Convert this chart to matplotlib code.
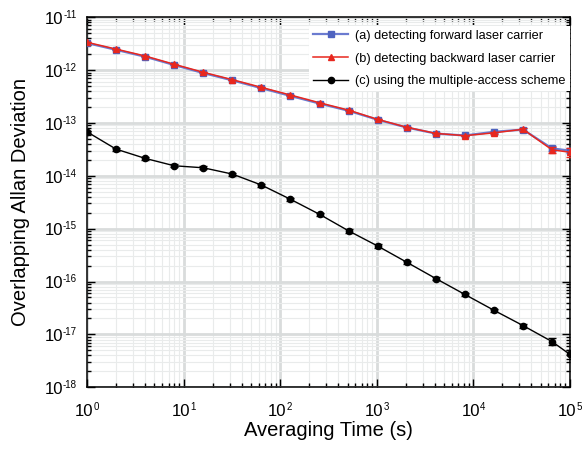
import numpy as np
import matplotlib
matplotlib.use('Agg')
import matplotlib.pyplot as plt
from matplotlib.lines import Line2D
from matplotlib.ticker import LogLocator, NullFormatter

plt.rcParams['font.family'] = ['Liberation Sans', 'DejaVu Sans']

# dados
tau = [1, 2, 4, 8, 16, 32, 64, 128, 256, 512, 1024, 2048, 4096,
       8192, 16384, 32768, 65536, 100000]

adev_a = [3.25e-12, 2.42e-12, 1.79e-12, 1.25e-12, 8.8e-13, 6.4e-13,
          4.55e-13, 3.25e-13, 2.33e-13, 1.7e-13, 1.15e-13, 8.2e-14,
          6.3e-14, 5.8e-14, 6.8e-14, 7.5e-14, 3.3e-14, 3.0e-14]
err_a = [0, 0, 0, 0, 0, 0, 0, 0, 0, 0, 0, 0, 0, 0, 3e-15, 4e-15, 3e-15, 3e-15]

adev_b = [3.36e-12, 2.5e-12, 1.85e-12, 1.29e-12, 9.1e-13, 6.6e-13,
          4.72e-13, 3.38e-13, 2.41e-13, 1.75e-13, 1.17e-13, 8.3e-14,
          6.35e-14, 5.75e-14, 6.5e-14, 7.6e-14, 3.1e-14, 2.8e-14]
err_b = [0, 0, 0, 0, 0, 0, 0, 0, 0, 0, 0, 0, 0, 0, 3e-15, 4e-15, 4.5e-15, 5.5e-15]

adev_c = [6.8e-14, 3.2e-14, 2.14e-14, 1.55e-14, 1.42e-14, 1.08e-14,
          6.7e-15, 3.6e-15, 1.87e-15, 9.1e-16, 4.7e-16, 2.32e-16,
          1.14e-16, 5.7e-17, 2.86e-17, 1.47e-17, 7.3e-18, 4.2e-18]
err_c = [4e-15, 2e-15, 1.3e-15, 1e-15, 9e-16, 7e-16, 4.5e-16, 2.4e-16,
         1.3e-16, 6.5e-17, 3.4e-17, 1.7e-17, 8.5e-18, 4.5e-18, 2.3e-18,
         1.3e-18, 1.1e-18, 8e-19]

expoentes_x = [0, 1, 2, 3, 4, 5]
expoentes_y = [-11, -12, -13, -14, -15, -16, -17, -18]

labels = ['(a) detecting forward laser carrier',
          '(b) detecting backward laser carrier',
          '(c) using the multiple-access scheme']

fig = plt.figure(figsize=(5.85, 4.54), dpi=100)
ax = fig.add_axes([0.1487, 0.147, 0.8253, 0.815])

estilo_a = dict(color='#6b7bd0', marker='s', ms=4.5, mfc='#4f63c0',
                mec='#4f63c0', lw=1.6)
estilo_b = dict(color='#e8271e', marker='^', ms=5, lw=1.1)
estilo_c = dict(color='black', marker='o', ms=4.5, lw=1.0)

ax.errorbar(tau, adev_a, yerr=err_a, capsize=3, elinewidth=1, zorder=3, **estilo_a)
ax.errorbar(tau, adev_b, yerr=err_b, capsize=3, elinewidth=1, zorder=4, **estilo_b)
ax.errorbar(tau, adev_c, yerr=err_c, capsize=3, elinewidth=1, zorder=4, **estilo_c)

ax.set_xscale('log')
ax.set_yscale('log')
ax.set_xlim(1, 1e5)
ax.set_ylim(1e-18, 1e-11)

ax.xaxis.set_major_locator(LogLocator(base=10, numticks=10))
ax.yaxis.set_major_locator(LogLocator(base=10, numticks=10))
ax.xaxis.set_minor_locator(LogLocator(base=10, subs=np.arange(2, 10), numticks=20))
ax.yaxis.set_minor_locator(LogLocator(base=10, subs=np.arange(2, 10), numticks=20))
ax.xaxis.set_major_formatter(NullFormatter())
ax.yaxis.set_major_formatter(NullFormatter())
ax.xaxis.set_minor_formatter(NullFormatter())
ax.yaxis.set_minor_formatter(NullFormatter())

ax.grid(True, which='major', color='#d9dcdc', lw=2.0, zorder=0)
ax.grid(True, which='minor', color='#e9ebeb', lw=0.8, zorder=0)
ax.set_axisbelow(True)

ax.tick_params(which='both', direction='in', top=True, right=True, width=1.0)
ax.tick_params(which='major', length=6)
ax.tick_params(which='minor', length=3)
for s in ax.spines.values():
    s.set_linewidth(1.1)

# rotulos 10^n feitos a mao (base + expoente)
TAM_BASE = 12
TAM_EXP = 7
px = 72 / fig.dpi
BASE_X, EXP_X = -29, -23
BASE_Y, EXP_Y = -6.7, -0.7

rot_x = []
for e in expoentes_x:
    b = ax.annotate('10', xy=(10.0**e, 0), xycoords=('data', 'axes fraction'),
                    xytext=(0, BASE_X * px), textcoords='offset points',
                    ha='left', va='baseline', fontsize=TAM_BASE)
    s = ax.annotate(str(e), xy=(10.0**e, 0), xycoords=('data', 'axes fraction'),
                    xytext=(0, EXP_X * px), textcoords='offset points',
                    ha='left', va='baseline', fontsize=TAM_EXP)
    rot_x.append((b, s))

rot_y = []
for e in expoentes_y:
    b = ax.annotate('10', xy=(0, 10.0**e), xycoords=('axes fraction', 'data'),
                    xytext=(0, BASE_Y * px), textcoords='offset points',
                    ha='left', va='baseline', fontsize=TAM_BASE)
    s = ax.annotate(str(e), xy=(0, 10.0**e),
                    xycoords=('axes fraction', 'data'),
                    xytext=(-10 * px, EXP_Y * px), textcoords='offset points',
                    ha='right', va='baseline', fontsize=TAM_EXP)
    rot_y.append((b, s))

fig.canvas.draw()
rend = fig.canvas.get_renderer()
for b, s in rot_x:
    wb = b.get_window_extent(rend).width
    ws = s.get_window_extent(rend).width
    inicio = -(wb + ws) / 2
    b.set_position((inicio * px, BASE_X * px))
    s.set_position(((inicio + wb) * px, EXP_X * px))
for b, s in rot_y:
    wb = b.get_window_extent(rend).width
    ws = s.get_window_extent(rend).width
    b.set_position(((-10 - ws - wb) * px, BASE_Y * px))

ax.set_xlabel('Averaging Time (s)', fontsize=14.5)
ax.set_ylabel('Overlapping Allan Deviation', fontsize=14.5)
ax.xaxis.set_label_coords(0.5, -0.09)
ax.yaxis.set_label_coords(-0.118, 0.5)

handles = [Line2D([], [], **estilo_a), Line2D([], [], **estilo_b),
           Line2D([], [], **estilo_c)]
leg = ax.legend(handles, labels, loc='upper right', bbox_to_anchor=(1.0, 0.976),
                fontsize=9.2, frameon=True, fancybox=False, framealpha=1,
                edgecolor='none', handlelength=2.8, handletextpad=0.55,
                borderaxespad=0.0, labelspacing=0.83, borderpad=0.3)

fig.savefig('out.png', dpi=100)
